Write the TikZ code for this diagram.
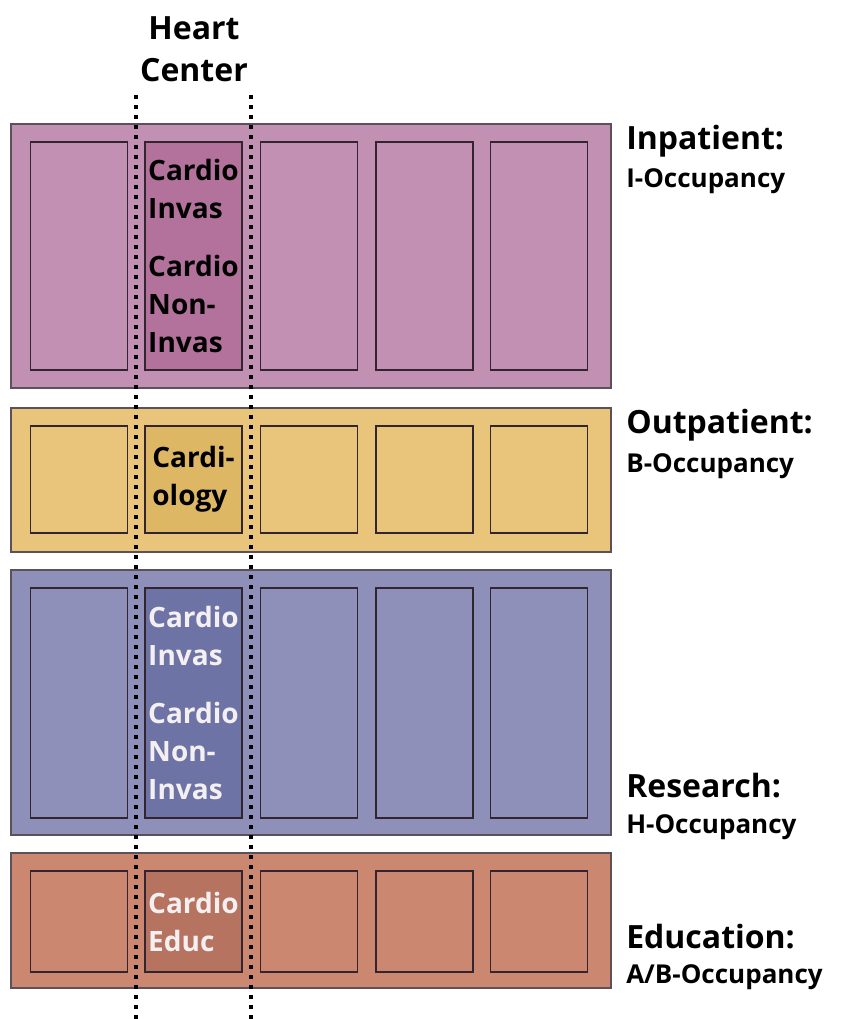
\documentclass[tikz,border=0pt]{standalone}
\usepackage{fontspec}
\setmainfont{Open Sans}
\usepackage{xcolor}
\usetikzlibrary{positioning}

\definecolor{inBand}{HTML}{C190B3}
\definecolor{inHeart}{HTML}{B3729B}
\definecolor{outBand}{HTML}{E8C57A}
\definecolor{outHeart}{HTML}{DEB764}
\definecolor{resBand}{HTML}{8E90BA}
\definecolor{resHeart}{HTML}{6E73A5}
\definecolor{eduBand}{HTML}{CB8770}
\definecolor{eduHeart}{HTML}{B67360}
\definecolor{edgeDark}{HTML}{33252F}
\definecolor{paleText}{HTML}{F4F0F2}

\begin{document}
\begin{tikzpicture}[
  x=0.75pt, y=-0.75pt,
  band/.style={
    draw=edgeDark!80,
    line width=1.2pt,
    minimum width=450pt,
    inner sep=0pt
  },
  room/.style={
    draw=edgeDark,
    line width=1.1pt,
    minimum width=72.75pt,
    inner sep=0pt
  },
  hcroom/.style={
    room,
    align=left,
    font=\bfseries\fontsize{21}{28.5}\selectfont
  },
  head/.style={font=\bfseries\fontsize{24}{28}\selectfont, inner sep=0pt},
  occ/.style={font=\bfseries\fontsize{19.5}{24}\selectfont, inner sep=0pt},
  hcline/.style={line width=3.1pt, dash pattern=on 3.1pt off 4.4pt}
]
\useasboundingbox (0,0) rectangle (847,1019);

% heart center title
\node[head, anchor=base] (hcTitle) at (194,40) {Heart};
\node[head, anchor=base] (hcTitleB) at (194,82) {Center};

% inpatient
\node[band, fill=inBand, minimum height=198pt] (inBand) at (311,256) {};
\node[room, fill=inBand, minimum height=171pt] (in1) at (79,256) {};
\node[hcroom, fill=inHeart, minimum height=171pt] (in2) at (193.5,256)
  {Cardio\\Invas\\[15.5pt]Cardio\\Non-\\Invas};
\node[room, fill=inBand, minimum height=171pt] (in3) at (309,256) {};
\node[room, fill=inBand, minimum height=171pt] (in4) at (424.5,256) {};
\node[room, fill=inBand, minimum height=171pt] (in5) at (539,256) {};
\node[head, anchor=base west] (inHead) at (626,150) {Inpatient:};
\node[occ, anchor=base west] (inOcc) at (626,188) {I-Occupancy};

% outpatient
\node[band, fill=outBand, minimum height=108pt] (outBand) at (311,480) {};
\node[room, fill=outBand, minimum height=80.25pt] (out1) at (79,479.5) {};
\node[hcroom, fill=outHeart, minimum height=80.25pt] (out2) at (193.5,479.5)
  {Cardi-\\ology};
\node[room, fill=outBand, minimum height=80.25pt] (out3) at (309,479.5) {};
\node[room, fill=outBand, minimum height=80.25pt] (out4) at (424.5,479.5) {};
\node[room, fill=outBand, minimum height=80.25pt] (out5) at (539,479.5) {};
\node[head, anchor=base west] (outHead) at (626,433) {Outpatient:};
\node[occ, anchor=base west] (outOcc) at (626,472) {B-Occupancy};

% research
\node[band, fill=resBand, minimum height=198.75pt] (resBand) at (311,702.5) {};
\node[room, fill=resBand, minimum height=172.5pt] (res1) at (79,703) {};
\node[hcroom, fill=resHeart, text=paleText, minimum height=172.5pt] (res2) at (193.5,703)
  {Cardio\\Invas\\[15.5pt]Cardio\\Non-\\Invas};
\node[room, fill=resBand, minimum height=172.5pt] (res3) at (309,703) {};
\node[room, fill=resBand, minimum height=172.5pt] (res4) at (424.5,703) {};
\node[room, fill=resBand, minimum height=172.5pt] (res5) at (539,703) {};
\node[head, anchor=base west] (resHead) at (626,797) {Research:};
\node[occ, anchor=base west] (resOcc) at (626,833) {H-Occupancy};

% education
\node[band, fill=eduBand, minimum height=101.25pt] (eduBand) at (311,920.5) {};
\node[room, fill=eduBand, minimum height=75.75pt] (edu1) at (79,921.5) {};
\node[hcroom, fill=eduHeart, text=paleText, minimum height=75.75pt] (edu2) at (193.5,921.5)
  {Cardio\\Educ};
\node[room, fill=eduBand, minimum height=75.75pt] (edu3) at (309,921.5) {};
\node[room, fill=eduBand, minimum height=75.75pt] (edu4) at (424.5,921.5) {};
\node[room, fill=eduBand, minimum height=75.75pt] (edu5) at (539,921.5) {};
\node[head, anchor=base west] (eduHead) at (626,948) {Education:};
\node[occ, anchor=base west] (eduOcc) at (626,983) {A/B-Occupancy};

% heart center boundary
\coordinate (hcLTop) at (136,95);
\coordinate (hcLBot) at (136,1019);
\coordinate (hcRTop) at (251,95);
\coordinate (hcRBot) at (251,1019);
\draw[hcline] (hcLTop) -- (hcLBot);
\draw[hcline] (hcRTop) -- (hcRBot);

\end{tikzpicture}
\end{document}
